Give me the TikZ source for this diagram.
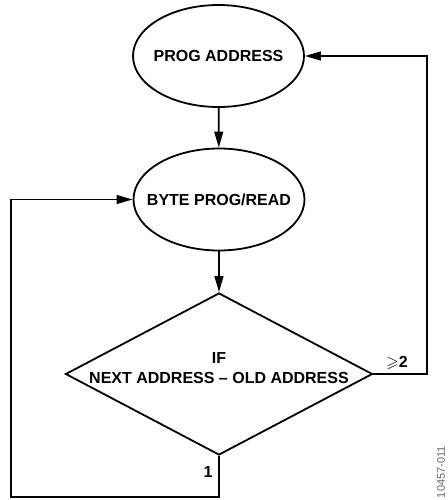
\documentclass[tikz,border=0pt]{standalone}
\usepackage{amssymb}
\usepackage{fontspec}
\setmainfont{Liberation Sans}
\usetikzlibrary{shapes.geometric,arrows.meta}

\begin{document}
\begin{tikzpicture}[x=0.5pt,y=-0.5pt, line width=0.9pt,
  txt/.style={font=\bfseries\fontsize{8}{10}\selectfont, align=center, inner sep=0pt},
  oval/.style={draw, ellipse, inner sep=0pt, minimum width=85.5pt, minimum height=51pt},
  decision/.style={draw, diamond, inner sep=0pt, minimum width=153.5pt, minimum height=81pt},
  flow/.style={-{Triangle[length=8pt,width=4.4pt]}}]
\useasboundingbox (0,0) rectangle (447,500);

% process steps
\node[oval, label={[txt]center:PROG ADDRESS}] (prog) at (218.5,56) {};
\node[oval, label={[txt]center:BYTE PROG/READ}] (byte) at (219,199.5) {};

% decision
\node[decision] (dec) at (219,374) {};
\node[txt] (cond) at (219,368) {IF\\NEXT ADDRESS -- OLD ADDRESS};

% loop corners
\coordinate (rt) at (427,56);
\coordinate (lb) at (11,497);

% connectors
\draw[flow] (prog) -- (byte);
\draw[flow] (byte) -- (dec.north);
\draw[flow] (dec.east) -- (dec.east -| rt) |- (prog.east);
\draw[flow] (dec.south) |- (lb) |- (byte.west);

% branch labels
\node[txt, anchor=center] (ge) at (397,363) {{\mdseries$\geqslant$}2};
\node[txt, anchor=center] (one) at (208,472) {1};

% figure number
\node[font=\fontsize{5.5}{6}\selectfont, text=black!60, rotate=90, anchor=south west, inner sep=0pt] (fig) at (446,499) {10457-011};
\end{tikzpicture}
\end{document}
